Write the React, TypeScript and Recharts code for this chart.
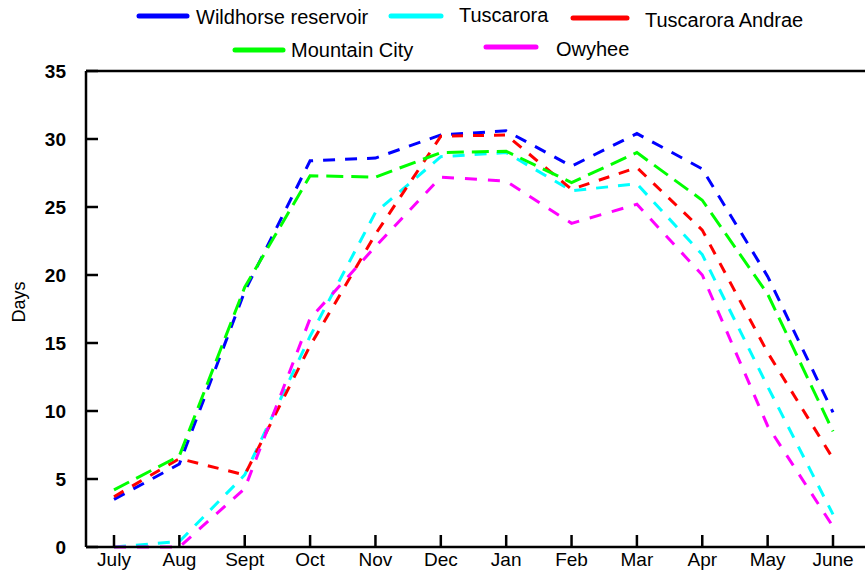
import { LineChart, Line, XAxis, YAxis, ReferenceLine, Label } from 'recharts';

const months = ['July', 'Aug', 'Sept', 'Oct', 'Nov', 'Dec', 'Jan', 'Feb', 'Mar', 'Apr', 'May', 'June'];

const wildhorse = [3.5, 6.1, 18.8, 28.4, 28.6, 30.3, 30.6, 28.0, 30.4, 27.8, 19.9, 9.9];
const tuscarora = [0, 0.4, 5.3, 15.5, 24.6, 28.7, 29.0, 26.2, 26.7, 21.5, 11.8, 2.4];
const tuscaroraAndrae = [3.7, 6.5, 5.3, 14.8, 23.0, 30.2, 30.3, 26.3, 27.9, 23.3, 14.3, 6.5];
const mountainCity = [4.2, 6.7, 19.1, 27.3, 27.2, 29.0, 29.1, 26.8, 29.0, 25.5, 18.6, 8.5];
const owyhee = [0, 0, 4.3, 16.8, 22.1, 27.2, 26.9, 23.8, 25.2, 20.0, 8.9, 1.5];

const yTicks = [0, 5, 10, 15, 20, 25, 30, 35];

const series = [
  { key: 'wildhorse', name: 'Wildhorse reservoir', color: '#0000ff', values: wildhorse, dash: '12 10' },
  { key: 'tuscarora', name: 'Tuscarora', color: '#00ffff', values: tuscarora, dash: '12 10' },
  { key: 'tuscaroraAndrae', name: 'Tuscarora Andrae', color: '#ff0000', values: tuscaroraAndrae, dash: '11 10' },
  { key: 'mountainCity', name: 'Mountain City', color: '#00ff00', values: mountainCity, dash: '17 8' },
  { key: 'owyhee', name: 'Owyhee', color: '#ff00ff', values: owyhee, dash: '12 11' },
];

const data = months.map((month, i) => {
  const row: Record<string, string | number> = { month };
  series.forEach((s) => {
    row[s.key] = s.values[i];
  });
  return row;
});

// legend placement
const legendPos = [
  { x1: 139, x2: 187, y: 16, tx: 196, ty: 17 },
  { x1: 391, x2: 441, y: 16, tx: 459, ty: 15 },
  { x1: 573, x2: 627, y: 18, tx: 645, ty: 20 },
  { x1: 235, x2: 283, y: 50, tx: 291, ty: 50 },
  { x1: 486, x2: 536, y: 47, tx: 556, ty: 49 },
];

const FONT = '"Liberation Sans", Arial, Helvetica, sans-serif';
const PLOT_LEFT = 86;
const PLOT_BOTTOM = 547;

const YTick = (props: any) => {
  const { y, payload } = props;
  return (
    <g>
      <line x1={PLOT_LEFT} x2={PLOT_LEFT + 12} y1={y} y2={y} stroke="#000" strokeWidth={2.5} />
      <text x={66} y={y} dy="0.36em" textAnchor="end" fontFamily={FONT} fontWeight="bold" fontSize={19} fill="#000">
        {payload.value}
      </text>
    </g>
  );
};

const XTick = (props: any) => {
  const { x, payload } = props;
  return (
    <g>
      <line x1={x} x2={x} y1={PLOT_BOTTOM} y2={PLOT_BOTTOM - 12} stroke="#000" strokeWidth={2.5} />
      <text x={x} y={566} textAnchor="middle" fontFamily={FONT} fontSize={19} fill="#000">
        {payload.value}
      </text>
    </g>
  );
};

const DaysLabel = () => (
  <text
    x={25}
    y={302}
    transform="rotate(-90 25 302)"
    textAnchor="middle"
    fontFamily={FONT}
    fontSize={18}
    fill="#000"
  >
    Days
  </text>
);

export default function App() {
  return (
    <div style={{ position: 'relative', width: 865, height: 571, background: '#fff' }}>
      <style>{'body{margin:0;background:#fff}'}</style>
      <LineChart width={865} height={571} data={data} margin={{ top: 71, right: 0, bottom: 0, left: 26 }}>
        <XAxis
          dataKey="month"
          scale="point"
          padding={{ left: 28, right: 32 }}
          height={24}
          interval={0}
          tickLine={false}
          axisLine={{ stroke: '#000', strokeWidth: 2.5 }}
          tick={<XTick />}
        />
        <YAxis
          width={60}
          domain={[0, 35]}
          ticks={yTicks}
          interval={0}
          tickLine={false}
          axisLine={{ stroke: '#000', strokeWidth: 2.5 }}
          tick={<YTick />}
        >
          <Label content={<DaysLabel />} />
        </YAxis>
        <ReferenceLine y={35} stroke="#000" strokeWidth={2.5} />
        {series.map((s) => (
          <Line
            key={s.key}
            type="linear"
            dataKey={s.key}
            name={s.name}
            stroke={s.color}
            strokeWidth={3}
            strokeDasharray={s.dash}
            dot={false}
            isAnimationActive={false}
          />
        ))}
      </LineChart>
      <svg width={865} height={65} style={{ position: 'absolute', left: 0, top: 0 }}>
        {series.map((s, i) => {
          const p = legendPos[i];
          return (
            <g key={s.key}>
              <line x1={p.x1} x2={p.x2} y1={p.y} y2={p.y} stroke={s.color} strokeWidth={5} strokeLinecap="round" />
              <text x={p.tx} y={p.ty} dy="0.36em" fontFamily={FONT} fontSize={20} fill="#000">
                {s.name}
              </text>
            </g>
          );
        })}
      </svg>
    </div>
  );
}
